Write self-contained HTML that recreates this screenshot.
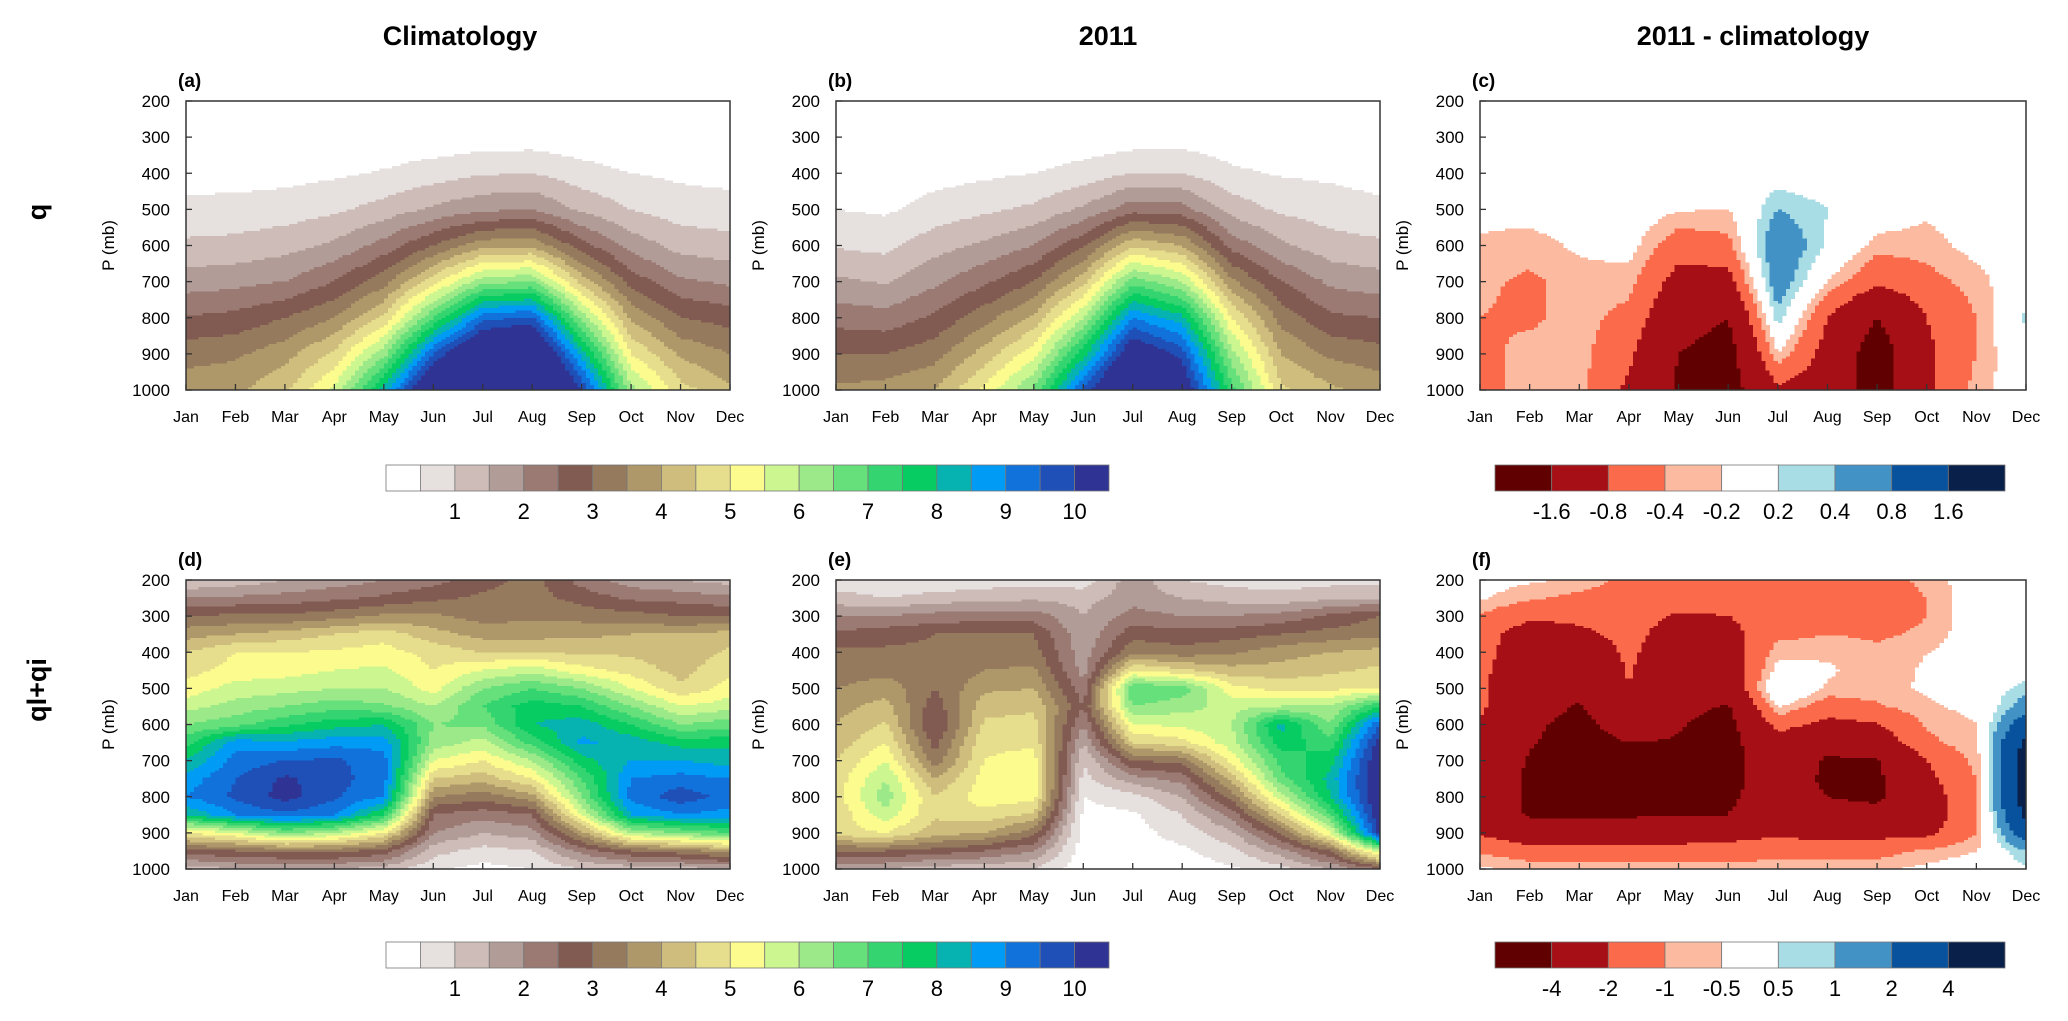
<!DOCTYPE html>
<html><head><meta charset="utf-8">
<style>
html,body{margin:0;padding:0;background:#fff;}
svg{display:block;font-family:"Liberation Sans",Arial,sans-serif;}
</style></head>
<body>
<svg id="fig" width="2068" height="1021" viewBox="0 0 2068 1021" xmlns="http://www.w3.org/2000/svg">
<rect x="0" y="0" width="2068" height="1021" fill="#fff"/>
<text x="460" y="45" font-size="27" font-weight="bold" text-anchor="middle">Climatology</text>
<text x="1108" y="45" font-size="27" font-weight="bold" text-anchor="middle">2011</text>
<text x="1753" y="45" font-size="27" font-weight="bold" text-anchor="middle">2011 - climatology</text>
<text x="0" y="0" font-size="27" font-weight="bold" text-anchor="middle" transform="translate(46,212) rotate(-90)">q</text>
<text x="0" y="0" font-size="27" font-weight="bold" text-anchor="middle" transform="translate(46,690) rotate(-90)">ql+qi</text>
<g id="panels"></g>
<g id="bars"></g>
</svg>
<script>
// ---- data ----
const months = ["Jan","Feb","Mar","Apr","May","Jun","Jul","Aug","Sep","Oct","Nov","Dec"];
const levelsQ = [200,300,400,500,600,700,800,900,1000];
const levelsC = [200,250,300,350,400,450,500,550,600,650,700,750,800,850,900,950,1000];
const yTicks = [200,300,400,500,600,700,800,900,1000];
const qBounds = [0.5,1,1.5,2,2.5,3,3.5,4,4.5,5,5.5,6,6.5,7,7.5,8,8.5,9,9.5,10];
const qBarLabels = ["1","2","3","4","5","6","7","8","9","10"];
const qColors = ["#ffffff","#e6e1df","#cdbcb8","#b29c98","#9a7a72","#815b52","#957a5e","#ae986a","#cebd7c","#e6de8c","#fcfc8e","#ccf690","#9ce98a","#66e07a","#34d470","#06cc62","#06b3b0","#009bf5","#1272dc","#1f50b8","#2e3394"];
const dColors = ["#600000","#a50f15","#fb6a4a","#fcbba1","#ffffff","#a8dde6","#4292c6","#08519c","#08204a"];
const dBoundsQ = [-1.6,-0.8,-0.4,-0.2,0.2,0.4,0.8,1.6];
const dBoundsC = [-4,-2,-1,-0.5,0.5,1,2,4];
const dLabelsQ = ["-1.6","-0.8","-0.4","-0.2","0.2","0.4","0.8","1.6"];
const dLabelsC = ["-4","-2","-1","-0.5","0.5","1","2","4"];

// panel (a): q climatology, rows = months, cols = levelsQ
const qClim = [
[0,0.05,0.28,0.65,1.1,1.75,2.55,3.3,3.8],
[0,0.05,0.28,0.68,1.15,1.85,2.65,3.4,3.9],
[0,0.08,0.33,0.75,1.3,2.0,3.0,3.8,4.4],
[0,0.1,0.42,0.9,1.6,2.5,3.5,4.6,5.6],
[0,0.12,0.55,1.2,2.2,3.3,4.6,6.3,8.2],
[0,0.15,0.75,1.6,3.0,4.8,7.0,9.5,11.5],
[0,0.2,0.95,1.9,3.8,6.3,9.3,11.5,13],
[0,0.22,1.0,2.0,3.9,6.5,9.6,11.8,13],
[0,0.15,0.7,1.4,2.7,4.3,6.3,8.3,10],
[0,0.1,0.5,1.0,1.8,2.8,3.9,5.0,6.2],
[0,0.08,0.4,0.75,1.3,2.1,3.0,3.9,4.7],
[0,0.06,0.33,0.7,1.2,1.9,2.8,3.5,4.1]];
// panel (b): q 2011
const q2011 = [
[0,0.03,0.2,0.5,0.95,1.6,2.3,3.0,3.6],
[0,0.03,0.2,0.42,0.85,1.45,2.2,3.0,3.7],
[0,0.05,0.3,0.7,1.3,1.9,2.6,3.3,4.0],
[0,0.08,0.4,0.9,1.6,2.4,3.3,4.2,5.1],
[0,0.1,0.5,1.1,2.0,3.0,4.1,5.3,6.6],
[0,0.15,0.7,1.6,2.9,4.3,6.0,7.8,9.6],
[0,0.22,1.0,2.3,4.4,6.8,9.0,10.8,12.3],
[0,0.25,1.0,2.2,4.0,6.0,8.2,9.8,10.8],
[0,0.15,0.6,1.3,2.3,3.6,5.0,6.2,7.2],
[0,0.1,0.45,0.9,1.6,2.5,3.3,4.0,4.6],
[0,0.08,0.4,0.75,1.2,1.9,2.6,3.4,4.1],
[0,0.05,0.3,0.62,1.1,1.7,2.5,3.2,3.8]];
// panel (c): q difference
const qDiff = [
[0,0,0,-0.1,-0.25,-0.35,-0.4,-0.5,-0.5],
[0,0,0,-0.1,-0.3,-0.45,-0.45,-0.3,-0.3],
[0,0,0,0,-0.15,-0.3,-0.3,-0.3,-0.3],
[0,0,0,0,-0.1,-0.3,-0.5,-0.7,-0.9],
[0,0,0,-0.18,-0.6,-1.0,-1.3,-1.6,-1.7],
[0,0,0,-0.2,-0.5,-1.0,-1.6,-1.9,-1.9],
[0,0,0.05,0.4,0.75,0.65,0.3,-0.2,-0.9],
[0,0,0,0.2,0.15,-0.2,-0.8,-1.0,-1.1],
[0,0,0,0,-0.3,-0.7,-1.6,-2.0,-2.0],
[0,0,0,-0.15,-0.3,-0.5,-0.8,-0.9,-0.9],
[0,0,0,0,-0.1,-0.3,-0.4,-0.4,-0.3],
[0,0,0,0,0,0.05,0.25,0.1,0]];
// panel (d): ql+qi climatology, cols = levelsC
const cClim = [
[1.0,2.0,3.0,3.8,4.5,4.8,5.2,5.8,6.5,7.3,8.0,8.7,9.0,8.0,5.0,2.8,1.2],
[1.2,2.1,3.1,4.0,5.0,5.2,5.7,6.2,6.8,8.8,9.2,9.5,9.6,9.0,5.5,3.0,1.5],
[1.5,2.2,3.1,4.2,5.0,5.3,5.8,6.5,7.4,8.6,9.5,10.1,10.2,9.4,6.5,3.2,1.5],
[1.7,2.4,3.3,4.5,5.1,5.5,6.0,6.8,7.8,8.8,9.6,9.7,9.6,9.0,6.0,3.2,1.5],
[2.0,2.6,3.6,4.8,5.2,5.6,6.0,6.6,8.0,8.8,9.2,9.2,9.0,7.5,5.0,2.8,1.3],
[2.3,2.9,3.6,4.2,4.8,5.0,5.3,6.0,6.5,6.3,5.5,4.5,3.5,2.5,2.0,1.2,0.6],
[2.8,3.1,3.3,3.8,4.5,5.5,6.5,7.0,6.6,5.8,5.0,4.2,3.2,2.2,1.5,0.8,0.3],
[3.2,3.2,3.4,3.8,4.5,5.8,7.0,7.8,8.0,7.2,6.0,5.0,3.8,2.5,1.8,1.0,0.5],
[2.3,2.8,3.3,3.9,4.4,5.2,6.5,7.5,8.3,8.6,7.8,7.0,6.5,5.5,3.8,2.2,1.0],
[1.7,2.4,3.2,4.0,4.4,4.8,5.5,6.5,7.5,8.3,8.5,9.0,9.2,8.5,6.0,3.0,1.2],
[1.5,2.3,3.0,4.0,4.2,4.3,4.6,5.5,6.5,7.8,8.5,9.2,9.8,9.0,6.5,3.3,1.3],
[1.3,2.1,3.0,4.2,4.6,4.9,5.2,5.8,6.8,7.8,8.3,9.0,9.3,8.8,7.0,3.8,1.5]];
// panel (e): ql+qi 2011
const c2011 = [
[0.7,1.2,2.0,2.6,3.1,3.2,3.5,3.8,4.0,4.2,4.5,4.7,4.8,4.6,4.8,3.0,1.5],
[0.6,1.0,2.0,2.8,3.1,3.3,3.8,4.2,4.6,5.0,5.5,6.0,6.3,5.8,5.0,3.0,1.5],
[0.6,1.2,2.2,3.0,3.1,3.1,3.0,2.7,2.4,2.8,3.2,4.0,4.5,4.6,4.2,2.8,1.2],
[0.7,1.3,2.3,3.0,3.2,3.5,3.9,4.3,4.6,4.9,5.0,5.2,5.3,4.8,4.0,2.5,1.2],
[0.8,1.4,2.3,3.0,3.2,3.6,4.0,4.4,4.7,4.9,5.2,5.3,5.2,4.4,3.2,2.0,1.0],
[0.7,1.3,1.5,1.6,1.7,1.8,2.2,2.5,2.0,1.5,1.0,0.8,0.5,0.3,0.2,0.2,0.1],
[1.8,1.8,2.2,2.8,3.4,5.0,7.0,6.5,5.5,4.5,3.0,1.8,0.8,0.4,0.3,0.2,0.1],
[1.0,1.5,2.0,2.7,3.2,4.6,6.8,6.2,5.6,4.8,3.2,2.2,1.5,1.0,0.7,0.4,0.2],
[0.8,1.3,2.0,2.8,3.4,4.2,5.2,5.8,6.0,5.8,5.2,4.2,3.2,2.2,1.4,0.8,0.4],
[0.7,1.2,2.2,3.0,3.8,4.2,4.8,6.0,8.2,7.8,7.2,6.8,5.8,4.5,3.0,1.8,0.8],
[0.8,1.4,2.6,3.2,4.0,4.4,4.9,6.0,6.5,7.2,7.8,8.2,8.0,7.0,5.5,3.0,1.5],
[0.8,1.5,3.0,3.4,4.2,4.6,5.0,7.5,9.5,10.3,10.6,10.7,10.7,10.5,10.2,6.0,2.5]];
// panel (f): ql+qi difference
const cDiff = [
[-0.2,-0.4,-1.1,-1.5,-1.6,-1.7,-1.8,-1.8,-2.1,-2.6,-3.0,-3.0,-2.8,-2.5,-2.1,-1.1,-0.4],
[-0.4,-0.9,-1.8,-2.6,-2.8,-3.0,-3.2,-3.4,-3.7,-3.9,-4.1,-4.2,-4.3,-4.2,-3.0,-1.5,-0.6],
[-0.6,-1.2,-1.8,-2.2,-2.8,-3.2,-3.6,-4.1,-4.5,-4.6,-4.8,-4.9,-4.8,-4.3,-3.0,-1.6,-0.6],
[-1.2,-1.5,-1.6,-1.7,-1.8,-1.9,-2.0,-2.6,-3.2,-4.0,-4.2,-4.6,-4.5,-4.2,-2.8,-1.5,-0.7],
[-1.3,-1.6,-2.1,-2.5,-2.8,-3.0,-3.3,-3.6,-3.9,-4.1,-4.3,-4.4,-4.4,-4.1,-2.8,-1.5,-0.7],
[-1.4,-1.6,-2.0,-2.4,-2.6,-2.9,-3.3,-4.1,-4.5,-4.6,-4.6,-4.5,-4.3,-4.0,-2.6,-1.4,-0.7],
[-1.5,-1.6,-1.5,-1.2,-0.7,-0.2,0.6,-0.4,-1.6,-2.5,-2.8,-3.0,-3.1,-3.0,-2.2,-1.3,-0.7],
[-1.4,-1.4,-1.3,-1.0,-0.6,-0.4,-0.6,-1.5,-2.3,-3.5,-4.2,-4.3,-4.0,-3.5,-2.5,-1.4,-0.6],
[-1.2,-1.3,-1.3,-1.1,-0.9,-0.8,-0.7,-1.1,-2.1,-2.8,-4.1,-4.3,-4.3,-3.5,-2.4,-1.3,-0.6],
[-0.9,-1.0,-1.0,-0.9,-0.5,-0.4,-0.4,-0.6,-0.9,-1.2,-2.0,-2.3,-2.6,-2.6,-2.3,-0.9,-0.3],
[0,0,0,0,0,0,0,-0.3,-0.5,-0.6,-0.8,-1.0,-1.1,-1.2,-1.0,-0.5,0],
[0,0,0,0,0,0.2,0.7,1.5,3.0,4.5,5.0,5.2,5.0,4.5,3.0,1.0,0.3]];

// ---- rendering ----
const NS = "http://www.w3.org/2000/svg";
function mk(tag, attrs, parent){
  const e = document.createElementNS(NS, tag);
  for (const k in attrs) e.setAttribute(k, attrs[k]);
  parent.appendChild(e);
  return e;
}
const panelDefs = [
  {id:"a", x:186, y:101, w:544, h:289, data:qClim, levels:levelsQ, bounds:qBounds, colors:qColors},
  {id:"b", x:836, y:101, w:544, h:289, data:q2011, levels:levelsQ, bounds:qBounds, colors:qColors},
  {id:"c", x:1480, y:101, w:546, h:289, data:qDiff, levels:levelsQ, bounds:dBoundsQ, colors:dColors},
  {id:"d", x:186, y:580, w:544, h:289, data:cClim, levels:levelsC, bounds:qBounds, colors:qColors},
  {id:"e", x:836, y:580, w:544, h:289, data:c2011, levels:levelsC, bounds:qBounds, colors:qColors},
  {id:"f", x:1480, y:580, w:546, h:289, data:cDiff, levels:levelsC, bounds:dBoundsC, colors:dColors}
];
function colorIndex(v, bounds){ let i=0; while(i<bounds.length && v>=bounds[i]) i++; return i; }
function sample(data, levels, m, p){
  const m0 = Math.min(Math.floor(m), 10), tm = m - m0;
  let j0 = 0; while (j0 < levels.length-2 && p > levels[j0+1]) j0++;
  const tp = (p - levels[j0])/(levels[j0+1]-levels[j0]);
  const a = data[m0][j0], b = data[m0+1][j0], c = data[m0][j0+1], d = data[m0+1][j0+1];
  return (a*(1-tm)+b*tm)*(1-tp) + (c*(1-tm)+d*tm)*tp;
}
const panelsG = document.getElementById("panels");
panelDefs.forEach(P => {
  const g = mk("g", {}, panelsG);
  
  
  const xS = m => P.x + m * P.w / 11;
  const yS = p => P.y + (p - 200) * P.h / 800;
  const NX = 132, NY = 120;
  const fill = mk("g", {"shape-rendering":"crispEdges"}, g);
  
  
  for (let r = 0; r < NY; r++) {
    const p0 = 200 + r*800/NY, p1 = 200 + (r+1)*800/NY, pc = (p0+p1)/2;
    let start = 0, cur = -1;
    for (let c = 0; c <= NX; c++) {
      let idx = -2;
      if (c < NX) { const mc = (c+0.5)*11/NX; idx = colorIndex(sample(P.data, P.levels, mc, pc), P.bounds); }
      if (idx !== cur) {
        if (cur >= 0 && P.colors[cur] !== "#ffffff") {
          const x0 = xS(start*11/NX), x1 = xS(c*11/NX);
          const y0 = yS(p0), y1 = yS(p1);
          const rc = mk("rect", {x:x0.toFixed(2), y:y0.toFixed(2), width:(x1-x0+0.6).toFixed(2), height:(y1-y0+0.6).toFixed(2), fill:P.colors[cur]}, fill);
          
          
        }
        cur = idx; start = c;
      }
    }
  }
  const frame = mk("rect", {x:P.x, y:P.y, width:P.w, height:P.h, fill:"none", stroke:"#333", "stroke-width":1.5}, g);
  
  
  const lbl = mk("text", {x:P.x-8, y:P.y-14, "font-size":19, "font-weight":"bold"}, g);
  lbl.textContent = "(" + P.id + ")";
  
  
  yTicks.forEach(t => {
    const y = yS(t);
    const tk = mk("line", {x1:P.x, x2:P.x+6, y1:y, y2:y, stroke:"#333", "stroke-width":1.3}, g);
    
    
    const tl = mk("text", {x:P.x-16, y:y+6, "font-size":17, "text-anchor":"end"}, g);
    tl.textContent = t;
    
    
  });
  months.forEach((mn, i) => {
    const x = xS(i);
    const tk = mk("line", {x1:x, x2:x, y1:P.y+P.h, y2:P.y+P.h-6, stroke:"#333", "stroke-width":1.3}, g);
    
    
    const tl = mk("text", {x:x, y:P.y+P.h+32, "font-size":16, "text-anchor":"middle"}, g);
    tl.textContent = mn;
    
    
  });
  const yt = mk("text", {x:0, y:0, "font-size":17, "text-anchor":"middle", transform:"translate("+(P.x-72)+","+(P.y+P.h/2)+") rotate(-90)"}, g);
  yt.textContent = "P (mb)";
  
  
});

// colorbars
const barsG = document.getElementById("bars");
function colorbar(name, x, y, w, h, colors, labels, labelEvery, labelOffset){
  const g = mk("g", {}, barsG);
  
  
  const bw = w / colors.length;
  colors.forEach((c, i) => {
    const r = mk("rect", {x:(x+i*bw).toFixed(2), y:y, width:bw.toFixed(2), height:h, fill:c, stroke:"#777", "stroke-width":0.8}, g);
    
    
  });
  labels.forEach((l, i) => {
    const k = labelOffset + i*labelEvery;
    const t = mk("text", {x:(x+k*bw).toFixed(2), y:y+h+28, "font-size":22, "text-anchor":"middle"}, g);
    t.textContent = l;
    
    
  });
}
colorbar("colorbar-q", 386, 465, 723, 26, qColors, qBarLabels, 2, 2);
colorbar("colorbar-q-diff", 1495, 465, 510, 26, dColors, dLabelsQ, 1, 1);
colorbar("colorbar-ql-qi", 386, 942, 723, 26, qColors, qBarLabels, 2, 2);
colorbar("colorbar-ql-qi-diff", 1495, 942, 510, 26, dColors, dLabelsC, 1, 1);
</script>
</body></html>
